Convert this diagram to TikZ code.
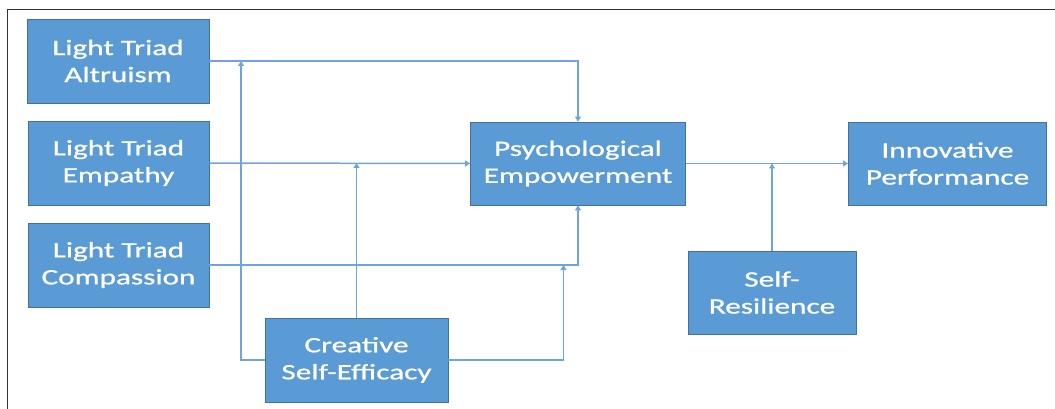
\documentclass[tikz,border=0pt]{standalone}
\usepackage{fontspec}
\setmainfont{Carlito}[FakeStretch=1.42,FakeBold=0.8]
\usetikzlibrary{arrows.meta}
\definecolor{boxblue}{HTML}{5B9BD5}
\definecolor{boxedge}{HTML}{41719C}
\definecolor{linkblue}{HTML}{6FA5DA}
\tikzset{
  var/.style={draw=boxedge, fill=boxblue, text=white, align=center, inner sep=0pt,
    line width=0.8pt, font=\fontsize{22}{27}\selectfont},
  link/.style={draw=linkblue, line width=1.5pt, -{Triangle[length=5pt,width=6pt]}},
}
\begin{document}
\begin{tikzpicture}[x=1pt,y=-1pt]
\useasboundingbox (0,0) rectangle (1055,409);
\draw[line width=1.5pt, black!80] (7.5,409) -- (7.5,9.5) -- (1055,9.5);
\node[var, minimum width=182pt, minimum height=84pt] (alt) at (118,61) {Light Triad\\Altruism};
\node[var, minimum width=181pt, minimum height=84pt] (emp) at (118.5,163) {Light Triad\\Empathy};
\node[var, minimum width=181pt, minimum height=84pt] (com) at (118.5,265) {Light Triad\\Compassion};
\node[var, minimum width=183pt, minimum height=84pt] (cse) at (356.5,360) {Creative\\Self-Efficacy};
\node[var, minimum width=215pt, minimum height=83pt] (pe) at (578,163.5) {Psychological\\Empowerment};
\node[var, minimum width=198pt, minimum height=83pt] (ip) at (947.5,163.5) {Innovative\\Performance};
\node[var, minimum width=168pt, minimum height=83pt] (sr) at (772,292.5) {Self-\\Resilience};
\coordinate (m1) at (241,61);
\coordinate (m3) at (563.5,265);
\draw[link] (alt.east) -| (pe.north);
\draw[link] (emp.east) -- (pe.west);
\draw[link] (com.east) -| (pe.south);
\draw[link] (cse.west) -| (m1);
\draw[link] (cse.north) -- (cse.north |- emp.east);
\draw[link] (cse.east) -| (m3);
\draw[link] (pe.east) -- (ip.west);
\draw[link] (sr.north) -- (sr.north |- pe.east);
\end{tikzpicture}
\end{document}
